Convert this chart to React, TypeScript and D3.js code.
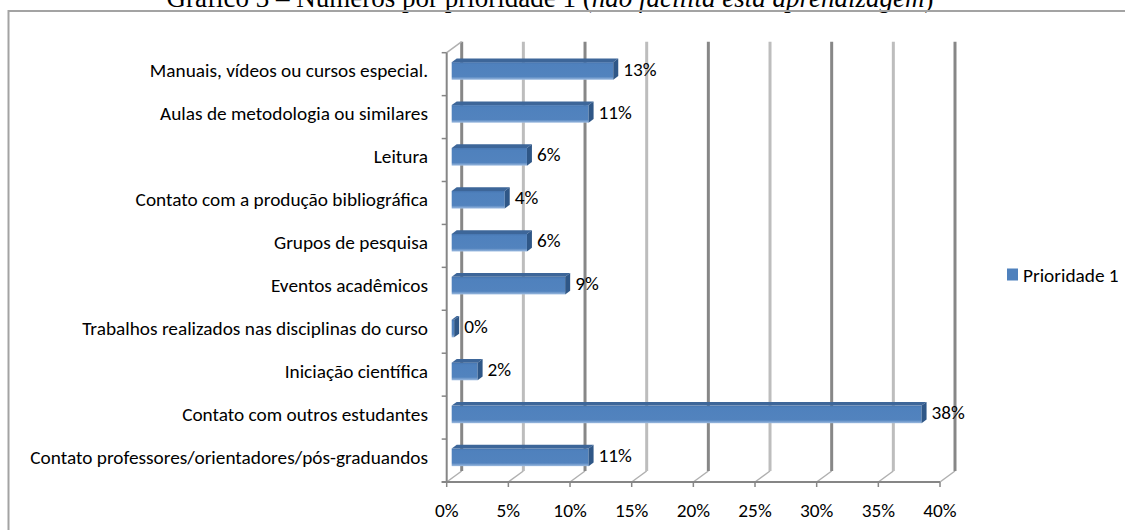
import React from "react";
import * as d3 from "d3";

const categories = [
  "Manuais, vídeos ou cursos especial.",
  "Aulas de metodologia  ou similares",
  "Leitura",
  "Contato com a produção bibliográfica",
  "Grupos de pesquisa",
  "Eventos acadêmicos",
  "Trabalhos realizados nas disciplinas do curso",
  "Iniciação científica",
  "Contato com outros estudantes",
  "Contato professores/orientadores/pós-graduandos",
];
const values = [13.1, 11.1, 6.1, 4.3, 6.1, 9.2, 0.2, 2.1, 38.1, 11.1];
const xTicks = [0, 5, 10, 15, 20, 25, 30, 35, 40];
const seriesName = "Prioridade 1";
const titleMain = "Gráfico 3 – Números por prioridade 1 (";
const titleItalic = "não facilita esta aprendizagem";
const titleEnd = ")";

const W = 1125;
const H = 530;
const FONT = "Carlito, Calibri, Lato, 'Open Sans', sans-serif";
const FS = 19.3;

export default function App() {
  const x = d3.scaleLinear().domain([0, 40]).range([446.7, 940]);
  const y = d3.scaleBand<string>().domain(categories).range([52.7, 482]).paddingInner(0).paddingOuter(0);
  const depthX = 15;
  const depthY = -11;
  const barDX = 5;
  const barDY = -3.7;
  const barOffX = 5;
  const barOffY = -3.7;
  const barH = 17.6;
  const floorY = 482;
  const topY = 52.7;

  return (
    <svg
      width={W}
      height={H}
      style={{ position: "absolute", left: 0, top: 0, background: "#fff" }}
      fontFamily={FONT}
    >
      <defs>
        <linearGradient id="barFront" x1="0" y1="0" x2="0" y2="1">
          <stop offset="0" stopColor="#4675b0" />
          <stop offset="0.12" stopColor="#4f81bd" />
          <stop offset="0.82" stopColor="#5283be" />
          <stop offset="1" stopColor="#9dbbe0" />
        </linearGradient>
      </defs>

      {/* title (cropped at top) */}
      <text
        x={550}
        y={6.8}
        textAnchor="middle"
        fontFamily="'Liberation Serif', 'Times New Roman', serif"
        fontSize={27}
        fill="#000"
      >
        {titleMain}
        <tspan fontStyle="italic">{titleItalic}</tspan>
        {titleEnd}
      </text>

      {/* chart frame */}
      <path d={`M8.5,${H + 2} V11 H${W + 2}`} fill="none" stroke="#a3a3a3" strokeWidth={2} />

      {/* floor diagonal lines */}
      {xTicks.map((t) => (
        <line
          key={"fd" + t}
          x1={x(t)}
          y1={floorY}
          x2={x(t) + depthX}
          y2={floorY + depthY}
          stroke="#b0b0b0"
          strokeWidth={1.5}
        />
      ))}

      {/* back wall gridlines */}
      {xTicks.map((t, i) => (
        <line
          key={"g" + t}
          x1={x(t) + depthX}
          y1={floorY + depthY}
          x2={x(t) + depthX}
          y2={topY + depthY}
          stroke={i % 2 === 0 ? "#878787" : "#bdbdbd"}
          strokeWidth={3}
        />
      ))}

      {/* top diagonal of the value axis */}
      <line
        x1={x(0)}
        y1={topY}
        x2={x(0) + depthX}
        y2={topY + depthY}
        stroke="#b0b0b0"
        strokeWidth={1.5}
      />

      {/* category axis line + ticks */}
      <line x1={x(0)} y1={topY} x2={x(0)} y2={floorY + 1} stroke="#868686" strokeWidth={2} />
      {categories.map((c, i) => (
        <line
          key={"yt" + i}
          x1={x(0) - 5}
          x2={x(0)}
          y1={(y(c) as number)}
          y2={(y(c) as number)}
          stroke="#868686"
          strokeWidth={1.5}
        />
      ))}
      <line x1={x(0) - 5} x2={x(0)} y1={floorY} y2={floorY} stroke="#868686" strokeWidth={1.5} />

      {/* value axis line + ticks */}
      <line x1={x(0) - 5} y1={floorY} x2={x(40)} y2={floorY} stroke="#868686" strokeWidth={2} />
      {xTicks.map((t) => (
        <line key={"xt" + t} x1={x(t)} x2={x(t)} y1={floorY} y2={floorY + 5} stroke="#868686" strokeWidth={1.5} />
      ))}
      {xTicks.map((t) => (
        <text
          key={"xl" + t}
          x={x(t)}
          y={517}
          textAnchor="middle"
          fontSize={FS}
          fill="#000"
        >
          {t + "%"}
        </text>
      ))}

      {/* category labels */}
      {categories.map((c) => (
        <text
          key={"cl" + c}
          x={428}
          y={(y(c) as number) + y.bandwidth() / 2 - 1.5}
          textAnchor="end"
          dominantBaseline="middle"
          fontSize={FS}
          fill="#000"
        >
          {c}
        </text>
      ))}

      {/* bars */}
      {categories.map((c, i) => {
        const v = values[i];
        const cy = (y(c) as number) + y.bandwidth() / 2 + barOffY + 0.5;
        const x0 = x(0) + barOffX;
        const x1 = x(v) + barOffX;
        const top = cy - barH / 2;
        const bot = cy + barH / 2;
        const topFace = `M${x0},${top} L${x1},${top} L${x1 + barDX},${top + barDY} L${x0 + barDX},${top + barDY} Z`;
        const sideFace = `M${x1},${top} L${x1 + barDX},${top + barDY} L${x1 + barDX},${bot + barDY} L${x1},${bot} Z`;
        return (
          <g key={"b" + i}>
            <rect x={x0} y={top} width={Math.max(0, x1 - x0)} height={barH} fill="url(#barFront)" />
            <path d={topFace} fill="#3d6699" />
            <path d={sideFace} fill="#2f5787" />
            <text
              x={x1 + barDX + 5}
              y={cy}
              dominantBaseline="middle"
              fontSize={FS}
              fill="#000"
            >
              {Math.round(v) + "%"}
            </text>
          </g>
        );
      })}

      {/* legend */}
      <rect x={1007} y={268.5} width={11} height={12} fill="#4f81bd" />
      <text x={1023} y={281.5} fontSize={FS} fill="#000">
        {seriesName}
      </text>
    </svg>
  );
}
